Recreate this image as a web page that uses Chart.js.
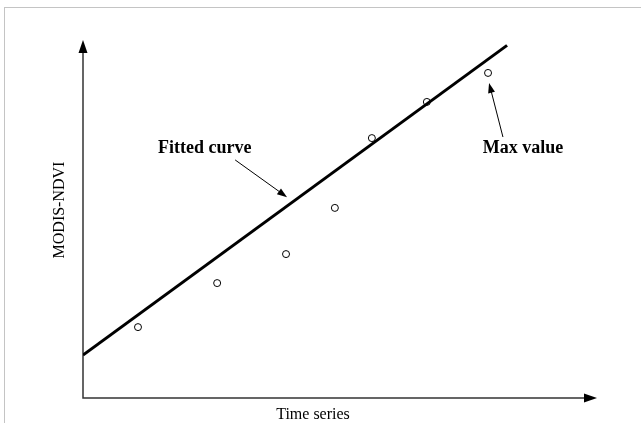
<!DOCTYPE html>
<html>
<head>
<meta charset="utf-8">
<script src="https://cdn.jsdelivr.net/npm/chart.js@4.4.0/dist/chart.umd.min.js"></script>
<style>
  html, body { margin: 0; padding: 0; background: #fff; }
  #wrap { width: 641px; height: 423px; }
</style>
</head>
<body>
<div id="wrap"><canvas id="ndviChart"></canvas></div>
<script>
// observed MODIS-NDVI samples along the time series (arbitrary units 0-100)
const timeValues = [10.7, 26.1, 39.5, 49.0, 56.2, 66.9, 78.8];
const ndviValues = [19.8, 32.1, 40.2, 53.1, 72.6, 82.7, 90.8];

// fitted straight line, start and end
const fitX = [0, 82.5];
const fitY = [12.0, 98.5];

// axis titles
const xTitle = 'Time series';
const yTitle = 'MODIS-NDVI';

// annotations: label position and arrow from -> to, all in data units
const noteLabels = ['Fitted curve', 'Max value'];
const noteLabelX = [23.7, 85.6];
const noteLabelY = [69.8, 69.8];
const noteFromX = [29.6, 81.7];
const noteFromY = [66.5, 72.9];
const noteToX = [39.7, 79.0];
const noteToY = [56.1, 88.0];

function arrowHead(ctx, x1, y1, x2, y2, len, half) {
  const a = Math.atan2(y2 - y1, x2 - x1);
  ctx.beginPath();
  ctx.moveTo(x2, y2);
  ctx.lineTo(x2 - len * Math.cos(a) + half * Math.sin(a), y2 - len * Math.sin(a) - half * Math.cos(a));
  ctx.lineTo(x2 - len * Math.cos(a) - half * Math.sin(a), y2 - len * Math.sin(a) + half * Math.cos(a));
  ctx.closePath();
  ctx.fill();
}

const decorations = {
  id: 'decorations',
  beforeDatasetsDraw(chart) {
    const ctx = chart.ctx;
    const area = chart.chartArea;
    ctx.save();
    // light frame round the figure
    ctx.strokeStyle = '#c4c4c4';
    ctx.lineWidth = 1;
    ctx.strokeRect(4.5, 7.5, 700, 500);

    // axes with arrows
    ctx.strokeStyle = '#333';
    ctx.fillStyle = '#000';
    ctx.lineWidth = 1.5;
    ctx.beginPath();
    ctx.moveTo(area.left, area.top + 8);
    ctx.lineTo(area.left, area.bottom);
    ctx.lineTo(area.right - 8, area.bottom);
    ctx.stroke();
    arrowHead(ctx, area.left, area.bottom, area.left, area.top, 13, 4.5);
    arrowHead(ctx, area.left, area.bottom, area.right, area.bottom, 13, 4.5);

    // axis titles
    ctx.font = '16px "Liberation Serif", "Times New Roman", serif';
    ctx.textAlign = 'center';
    ctx.textBaseline = 'middle';
    ctx.fillText(xTitle, (area.left + area.right) / 2 - 27, area.bottom + 17);
    ctx.save();
    ctx.translate(area.left - 23, 210);
    ctx.rotate(-Math.PI / 2);
    ctx.fillText(yTitle, 0, 0);
    ctx.restore();
    ctx.restore();
  },
  afterDatasetsDraw(chart) {
    const ctx = chart.ctx;
    const xs = chart.scales.x;
    const ys = chart.scales.y;
    ctx.save();
    ctx.fillStyle = '#000';
    ctx.strokeStyle = '#000';
    ctx.lineWidth = 1;
    ctx.font = 'bold 18px "Liberation Serif", "Times New Roman", serif';
    ctx.textAlign = 'center';
    ctx.textBaseline = 'middle';
    noteLabels.forEach((label, i) => {
      ctx.fillText(label, xs.getPixelForValue(noteLabelX[i]), ys.getPixelForValue(noteLabelY[i]));
      const x1 = xs.getPixelForValue(noteFromX[i]);
      const y1 = ys.getPixelForValue(noteFromY[i]);
      const x2 = xs.getPixelForValue(noteToX[i]);
      const y2 = ys.getPixelForValue(noteToY[i]);
      const a = Math.atan2(y2 - y1, x2 - x1);
      ctx.beginPath();
      ctx.moveTo(x1, y1);
      ctx.lineTo(x2 - 8 * Math.cos(a), y2 - 8 * Math.sin(a));
      ctx.stroke();
      arrowHead(ctx, x1, y1, x2, y2, 10, 3.5);
    });
    ctx.restore();
  }
};

const ctx = document.getElementById('ndviChart').getContext('2d');
const chart = new Chart(ctx, {
  type: 'scatter',
  data: {
    datasets: [
      {
        label: 'Fitted curve',
        type: 'line',
        data: fitX.map((x, i) => ({ x: x, y: fitY[i] })),
        borderColor: '#000',
        borderWidth: 3,
        pointRadius: 0,
        fill: false,
        tension: 0
      },
      {
        label: 'MODIS-NDVI',
        data: timeValues.map((x, i) => ({ x: x, y: ndviValues[i] })),
        borderColor: '#000',
        backgroundColor: '#fff',
        borderWidth: 1,
        pointRadius: 3.5,
        pointHoverRadius: 3.5
      }
    ]
  },
  options: {
    responsive: true,
    maintainAspectRatio: false,
    animation: false,
    layout: {
      padding: { left: 83, right: 44, top: 40, bottom: 25 }
    },
    plugins: {
      legend: { display: false },
      tooltip: { enabled: false }
    },
    scales: {
      x: { type: 'linear', min: 0, max: 100, display: false },
      y: { type: 'linear', min: 0, max: 100, display: false }
    }
  },
  plugins: [decorations]
});
</script>
</body>
</html>
